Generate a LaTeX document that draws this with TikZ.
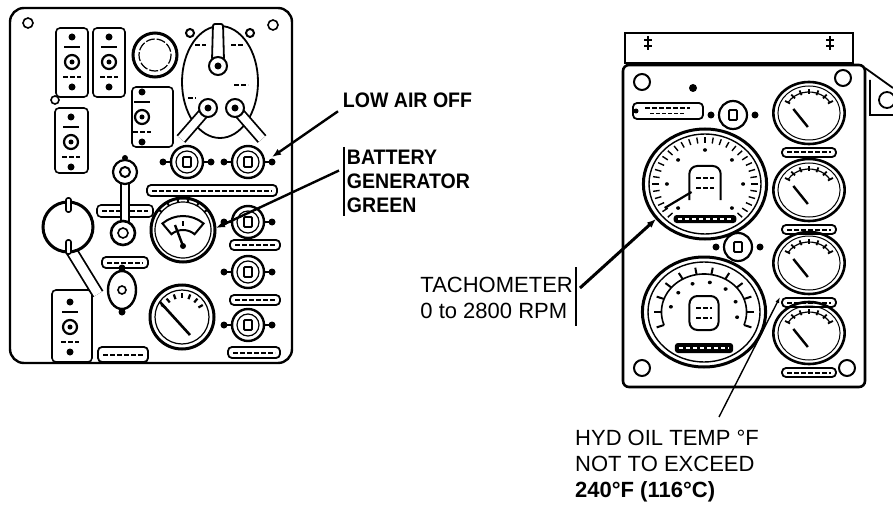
\documentclass[tikz,border=0pt]{standalone}
\usepackage{fontspec}
\setmainfont{Liberation Sans}
\usetikzlibrary{arrows.meta}

\begin{document}
\begin{tikzpicture}[x=1pt, y=-1pt,
    outline/.style={line width=2.4pt, rounded corners=14pt},
    plate/.style={line width=1.6pt, rounded corners=4pt},
    tag/.style={line width=1.8pt, rounded corners=4pt},
    scrawl/.style={line width=2pt, dash pattern=on 5pt off 2pt},
    dial/.style={line width=3pt},
    leader/.style={line width=2.4pt, -{Latex[length=9pt,width=7pt]}},
    callout/.style={font=\fontsize{22}{26}\selectfont, align=left, inner sep=3pt}]
    \useasboundingbox[fill=white] (0,0) rectangle (893,505);

    % Left panel
    \draw[outline] (10,8) rectangle (292,363);
    \draw[line width=1.6pt] (28,23) circle (5) (273,25) circle (5) (55,100) circle (4);

    % Toggle plates
    \foreach \x/\y/\w/\h in {56/28/32/69, 93/28/32/69, 55/108/33/65, 132/87/41/60, 52/290/40/72}
        \draw[plate] (\x,\y) rectangle ++(\w,\h);
    \foreach \x/\y in {72/62, 109/62, 71/142, 142/117, 70/327}{
        \draw[line width=2.2pt] (\x,\y) circle (7);
        \fill (\x,\y) circle (2.5);
        \draw[line width=2pt] (\x-8,\y-15) -- (\x+8,\y-15);
        \fill (\x,\y-25) circle (3.5) (\x,\y+25) circle (3.5);
        \draw[scrawl] (\x-9,\y+15) -- (\x+9,\y+15);
    }

    % Warning lamp
    \draw[dial] (155,55) circle (22);
    \draw[line width=1.2pt, dash pattern=on 9pt off 2pt] (155,55) circle (16);

    % Rotary switch housing
    \draw[line width=1.8pt] (220,82) ellipse (38 and 56);
    \draw[line width=2pt, fill=white] (190,33) circle (4) (250,33) circle (4);
    \draw[scrawl] (195,45) -- (206,45) (231,45) -- (243,45) (234,85) -- (248,85) (188,98) -- (196,98);
    \draw[line width=1.8pt, fill=white, rounded corners=2pt] (213,24) -- (223,24) -- (224,60) -- (212,60) -- cycle;
    \draw[line width=2pt, fill=white] (218,66) circle (9);
    \fill (218,66) circle (3.5);
    \draw[line width=1.8pt, double=white, double distance=8pt] (208,108) -- (181,139);
    \draw[line width=1.8pt, double=white, double distance=8pt] (235,108) -- (262,139);
    \foreach \x in {208,235}{
        \draw[line width=2pt, fill=white] (\x,108) circle (9);
        \fill (\x,108) circle (3.5);
    }

    % Wing switches
    \foreach \x/\y in {187/162, 248/162, 248/222, 248/272, 248/325}{
        \draw[line width=2.4pt, fill=white] (\x,\y) circle (16);
        \draw[line width=1.2pt] (\x,\y) circle (11);
        \draw[line width=1.8pt, rounded corners=1pt] (\x-4,\y-5) rectangle (\x+4,\y+5);
        \draw[line width=2.4pt] (\x-24,\y) -- (\x-16,\y) (\x+16,\y) -- (\x+24,\y);
        \fill (\x-24,\y) circle (3.5) (\x+24,\y) circle (3.5);
    }

    % Label bars
    \foreach \x/\y/\w/\h in {147/185/130/11, 102/257/46/11, 230/240/50/10, 230/295/50/10, 228/347/52/11, 98/347/50/15}{
        \draw[tag] (\x,\y) rectangle ++(\w,\h);
        \draw[scrawl] (\x+5,\y+\h/2) -- ++(\w-10,0);
    }

    % Lever switch
    \fill (125,158) circle (3);
    \draw[plate] (97,205) rectangle (153,217);
    \draw[scrawl] (102,211) -- (148,211);
    \draw[line width=1.6pt, double=white, double distance=6pt] (125,182) -- (125,224);
    \draw[line width=2.2pt, fill=white] (125,172) circle (12);
    \draw[line width=2pt] (125,172) circle (5);
    \draw[line width=2.6pt, fill=white] (123,233) circle (12);
    \draw[line width=1.6pt] (123,233) circle (5);

    % Bottom switch
    \draw[line width=2.4pt] (122,290) ellipse (14 and 19);
    \draw[line width=1.6pt] (122,290) circle (4);
    \fill (122,268) circle (3.5) (122,312) circle (3.5);

    % Big lamp and arm
    \draw[line width=1.8pt, double=white, double distance=9pt] (71,250) -- (98,294);
    \draw[dial, fill=white] (68,227) circle (25);
    \draw[line width=1.6pt, fill=white, rounded corners=2pt] (66,198) rectangle (71,212) (66,240) rectangle (71,254);

    % Battery gauge
    \begin{scope}[shift={(183,230)}, yscale=-1]
        \draw[dial] (0,0) circle (32);
        \draw[line width=1.2pt] (0,0) circle (28);
        \foreach \a in {40,60,...,140} \draw[line width=2pt] (\a:28) -- (\a:32);
        \draw[line width=2pt, shift={(0,-18)}] (130:32) arc (130:50:32) -- (50:18) arc (50:130:18) -- cycle;
        \draw[line width=2.4pt] (0,9) -- (0,4);
        \draw[line width=2.4pt] (0,-16) -- (-8,5);
        \fill (0,-16) circle (3);
    \end{scope}

    % Lower gauge
    \begin{scope}[shift={(182,317)}, yscale=-1]
        \draw[dial] (0,0) circle (32);
        \draw[line width=1.2pt] (0,0) circle (27);
        \foreach \a in {150,130,...,30} \draw[line width=2.2pt] (\a:19) -- (\a:24);
        \draw[line width=2.6pt] (-22,15) -- (8,-18);
    \end{scope}

    % Right panel
    \draw[line width=2pt] (625,33) rectangle (853,63);
    \foreach \x in {648,830}
        \draw[line width=1.6pt] (\x-4,40) -- (\x+4,40) (\x-4,46) -- (\x+4,46) (\x,36) -- (\x,50);
    \draw[line width=2.6pt, rounded corners=6pt] (623,65) rectangle (865,387);
    \draw[line width=1.8pt] (865,68) -- (893,88) (870,80) -- (870,115) -- (893,115);
    \draw[line width=1.8pt] (887,100) circle (8);
    \foreach \x/\y in {642/82, 843/78, 642/368, 847/368}
        \draw[line width=2pt] (\x,\y) circle (8);
    \fill (693,88) circle (4);
    \draw[tag] (633,103) rectangle (703,119);
    \fill (636,111) circle (2.5);
    \draw[scrawl] (645,108) -- (690,108);
    \draw[line width=1pt, dash pattern=on 4pt off 2pt] (650,114) -- (685,114);
    \foreach \x/\y in {733/115, 738/247}{
        \draw[line width=2.2pt] (\x,\y) circle (14);
        \draw[line width=1.8pt, rounded corners=1pt] (\x-4,\y-5) rectangle (\x+4,\y+5);
        \fill (\x-22,\y) circle (3.5) (\x+22,\y) circle (3.5);
    }

    % Tachometer
    \begin{scope}[shift={(705,184)}, xscale=1.12, yscale=-1]
        \draw[dial] (0,0) circle (55);
        \draw[line width=1.4pt] (0,0) circle (50);
        \foreach \a in {-45,-36,...,225} \draw[line width=1.4pt] (\a:41) -- (\a:47);
        \foreach \a in {-45,0,...,225} \fill (\a:34) circle (1.8);
        \draw[line width=2pt, rounded corners=8pt] (-14,-16) -- (-14,18) -- (14,18) -- (14,-16);
        \draw[scrawl] (-8,6) -- (8,6) (-8,-4) -- (8,-4);
        \fill[rounded corners=3pt] (-28,-31) rectangle (28,-39);
        \draw[white, line width=1.4pt, dash pattern=on 4pt off 3pt] (-24,-35) -- (24,-35);
        \draw[line width=2.2pt] (-12,-8) -- (-36,-24);
    \end{scope}

    % Hour meter gauge
    \begin{scope}[shift={(704,312)}, xscale=1.12, yscale=-1]
        \draw[dial] (0,0) circle (55);
        \draw[line width=1.4pt] (0,0) circle (50);
        \draw[line width=1.6pt] (200:38) arc (200:-20:38);
        \foreach \a in {-20,0,...,200} \draw[line width=2pt] (\a:38) -- (\a:45);
        \foreach \a in {-10,20,...,190} \fill (\a:30) circle (1.8);
        \draw[line width=2pt, rounded corners=8pt] (-13,-18) -- (-13,16) -- (13,16) -- (13,-18) -- cycle;
        \draw[scrawl] (-7,4) -- (7,4) (-7,-6) -- (7,-6);
        \fill[rounded corners=3pt] (-26,-31) rectangle (26,-41);
        \draw[white, line width=1.4pt, dash pattern=on 4pt off 3pt] (-22,-36) -- (22,-36);
    \end{scope}

    % Small gauges
    \foreach \y in {113,190,263,333}{
        \begin{scope}[shift={(809,\y)}, xscale=1.15, yscale=-1]
            \draw[line width=2.6pt] (0,0) circle (31);
            \draw[line width=1pt] (0,0) circle (27);
            \foreach \a in {150,130,...,30} \draw[line width=1.8pt] (\a:19) -- (\a:24);
            \draw[line width=1.2pt] (150:21) arc (150:30:21);
            \draw[line width=2.4pt] (-1,-14) -- ++(125:22);
        \end{scope}
        \draw[tag] (782,\y+35) rectangle (836,\y+44);
        \draw[scrawl] (787,\y+39.5) -- (831,\y+39.5);
    }

    % Callouts
    \node[callout, font=\bfseries\fontsize{21}{24}\selectfont, xscale=0.93, anchor=north west] (lowair) at (340,90) {LOW AIR OFF};
    \node[callout, font=\bfseries\fontsize{21}{24}\selectfont, xscale=0.93, anchor=north west] (battery) at (344,147) {BATTERY\\GENERATOR\\GREEN};
    \node[callout, anchor=north east] (tacho) at (576,274) {TACHOMETER\\0 to 2800 RPM};
    \node[callout, anchor=north west] (hydoil) at (572,427) {HYD OIL TEMP °F\\NOT TO EXCEED\\\textbf{240°F (116°C)}};
    \draw[line width=1.6pt] (battery.north west) -- (battery.south west);
    \draw[line width=1.6pt] ([yshift=7pt]tacho.north east) -- ([yshift=-4pt]tacho.south east);

    \coordinate (lowairtip) at (272,157);
    \coordinate (batterytip) at (216,228);
    \coordinate (tachotip) at (656,219);
    \coordinate (hydoiltip) at (780,297);
    \draw[leader] ([xshift=-2pt]lowair.south west) -- (lowairtip);
    \draw[leader] ([xshift=-5pt,yshift=11pt]battery.west) -- (batterytip);
    \draw[leader, line width=3pt] ([xshift=4pt,yshift=10pt]tacho.east) -- (tachotip);
    \draw[line width=1.4pt, -{Latex[length=6pt,width=4pt]}] ([xshift=52pt,yshift=10pt]hydoil.north) -- (hydoiltip);
\end{tikzpicture}
\end{document}
